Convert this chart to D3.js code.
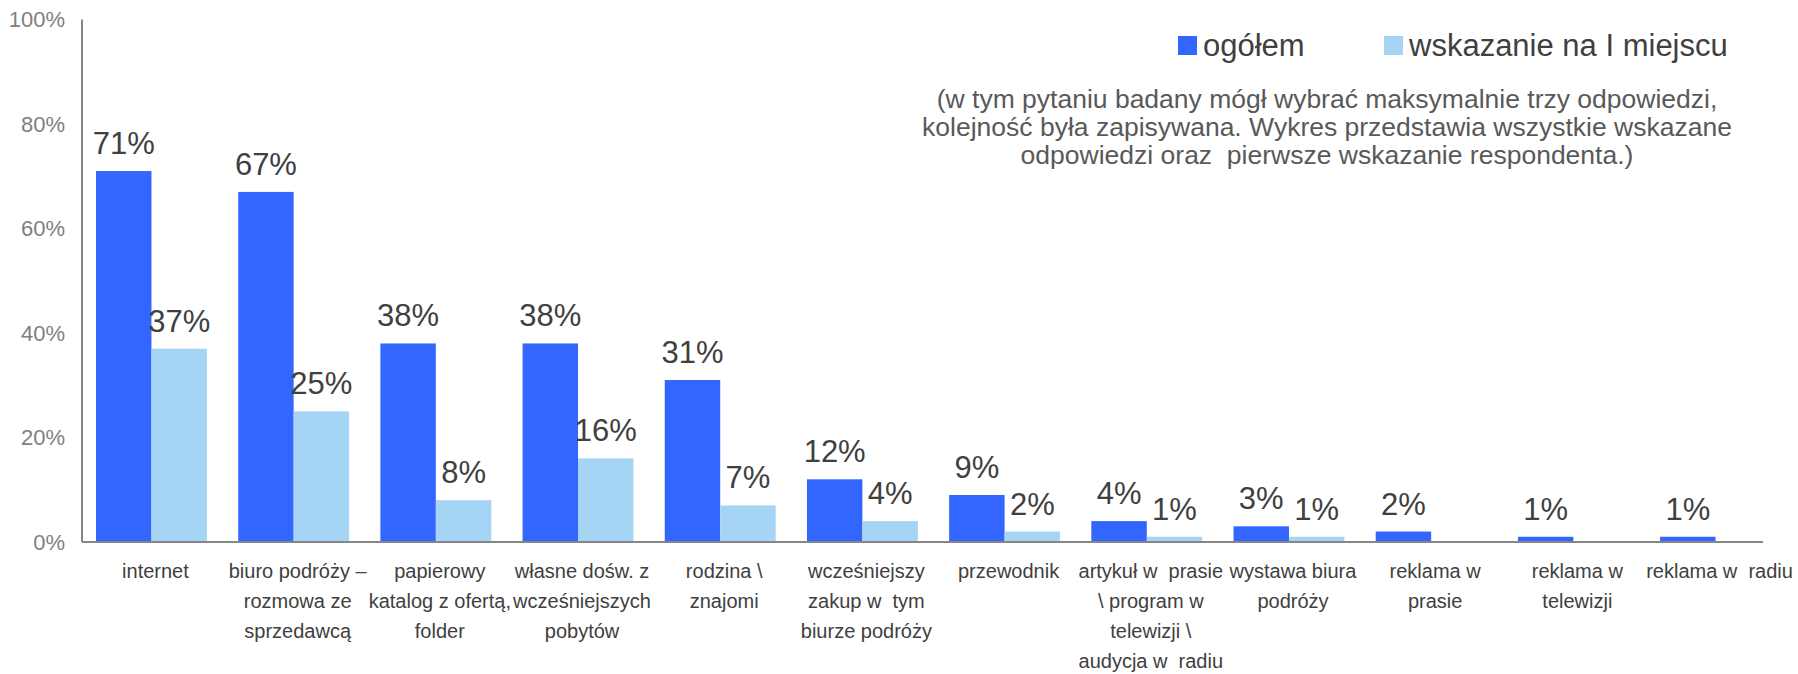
<!DOCTYPE html>
<html>
<head>
<meta charset="utf-8">
<script src="https://cdn.jsdelivr.net/npm/d3@7"></script>
<style>
  body { margin: 0; background: #fff; }
  svg { font-family: "Liberation Sans", Arial, sans-serif; display: block; }
  svg text { white-space: pre; }
</style>
</head>
<body>
<div id="chart"></div>
<script>
// Dane wykresu
const categories = [
  ['internet'],
  ['biuro podróży –', 'rozmowa ze', 'sprzedawcą'],
  ['papierowy', 'katalog z ofertą,', 'folder'],
  ['własne dośw. z', 'wcześniejszych', 'pobytów'],
  ['rodzina \\', 'znajomi'],
  ['wcześniejszy', 'zakup w  tym', 'biurze podróży'],
  ['przewodnik'],
  ['artykuł w  prasie', '\\ program w', 'telewizji \\', 'audycja w  radiu'],
  ['wystawa biura', 'podróży'],
  ['reklama w', 'prasie'],
  ['reklama w', 'telewizji'],
  ['reklama w  radiu']
];
const ogolem = [71, 67, 38, 38, 31, 12, 9, 4, 3, 2, 1, 1];
const pierwsze = [37, 25, 8, 16, 7, 4, 2, 1, 1, null, null, null];
const seriesNames = ['ogółem', 'wskazanie na I miejscu'];
const yTicks = [0, 20, 40, 60, 80, 100];
const noteLines = [
  '(w tym pytaniu badany mógł wybrać maksymalnie trzy odpowiedzi,',
  'kolejność była zapisywana. Wykres przedstawia wszystkie wskazane',
  'odpowiedzi oraz  pierwsze wskazanie respondenta.)'
];

const W = 1798, H = 674;
const colors = ['#3366FF', '#A6D4F4'];

const svg = d3.select('#chart').append('svg')
  .attr('width', W)
  .attr('height', H);

// Skale
const x = d3.scaleBand()
  .domain(d3.range(categories.length))
  .range([82, 1785])
  .paddingInner(0.22)
  .paddingOuter(0.0985);

const x1 = d3.scaleBand()
  .domain([0, 1])
  .range([0, x.bandwidth()]);

const y = d3.scaleLinear()
  .domain([0, 100])
  .range([542, 19.5]);

// Oś Y
svg.append('line')
  .attr('x1', 82).attr('x2', 82)
  .attr('y1', y(100)).attr('y2', y(0))
  .attr('stroke', '#868686').attr('stroke-width', 2);

svg.append('g')
  .selectAll('text')
  .data(yTicks)
  .enter().append('text')
  .attr('x', 65)
  .attr('y', d => y(d))
  .attr('dy', '0.35em')
  .attr('text-anchor', 'end')
  .style('font-size', '22px')
  .attr('fill', '#808080')
  .text(d => d + '%');

// Słupki
const series = [ogolem, pierwsze];
series.forEach((vals, s) => {
  const items = vals.map((v, i) => ({ i, v })).filter(d => d.v !== null);

  svg.append('g')
    .selectAll('rect')
    .data(items)
    .enter().append('rect')
    .attr('x', d => x(d.i) + x1(s))
    .attr('y', d => y(d.v))
    .attr('width', x1.bandwidth())
    .attr('height', d => y(0) - y(d.v))
    .attr('fill', colors[s]);

  svg.append('g')
    .selectAll('text')
    .data(items)
    .enter().append('text')
    .attr('x', d => x(d.i) + x1(s) + x1.bandwidth() / 2)
    .attr('y', d => y(d.v) - 17)
    .attr('text-anchor', 'middle')
    .style('font-size', '31px')
    .attr('fill', '#404040')
    .text(d => d.v + '%');
});

// Linia bazowa
svg.append('line')
  .attr('x1', 82).attr('x2', 1763)
  .attr('y1', y(0)).attr('y2', y(0))
  .attr('stroke', '#868686').attr('stroke-width', 2);

// Etykiety kategorii
const catG = svg.append('g');
categories.forEach((lines, i) => {
  const t = catG.append('text')
    .attr('text-anchor', 'middle')
    .style('font-size', '20px')
    .attr('fill', '#404040');
  lines.forEach((ln, k) => {
    t.append('tspan')
      .attr('x', x(i) + x.bandwidth() / 2 + 4)
      .attr('y', 578 + k * 30)
      .text(ln);
  });
});

// Legenda
const legend = svg.append('g');
const legendX = [1178, 1384];
seriesNames.forEach((name, s) => {
  legend.append('rect')
    .attr('x', legendX[s]).attr('y', 36)
    .attr('width', 19).attr('height', 19)
    .attr('fill', colors[s]);
  legend.append('text')
    .attr('x', legendX[s] + 25).attr('y', 56)
    .style('font-size', '31px')
    .attr('fill', '#404040')
    .text(name);
});

// Notatka
svg.append('g')
  .selectAll('text')
  .data(noteLines)
  .enter().append('text')
  .attr('x', 1327)
  .attr('y', (d, i) => 108 + i * 28)
  .attr('text-anchor', 'middle')
  .style('font-size', '26.5px')
  .attr('fill', '#595959')
  .text(d => d);
</script>
</body>
</html>
